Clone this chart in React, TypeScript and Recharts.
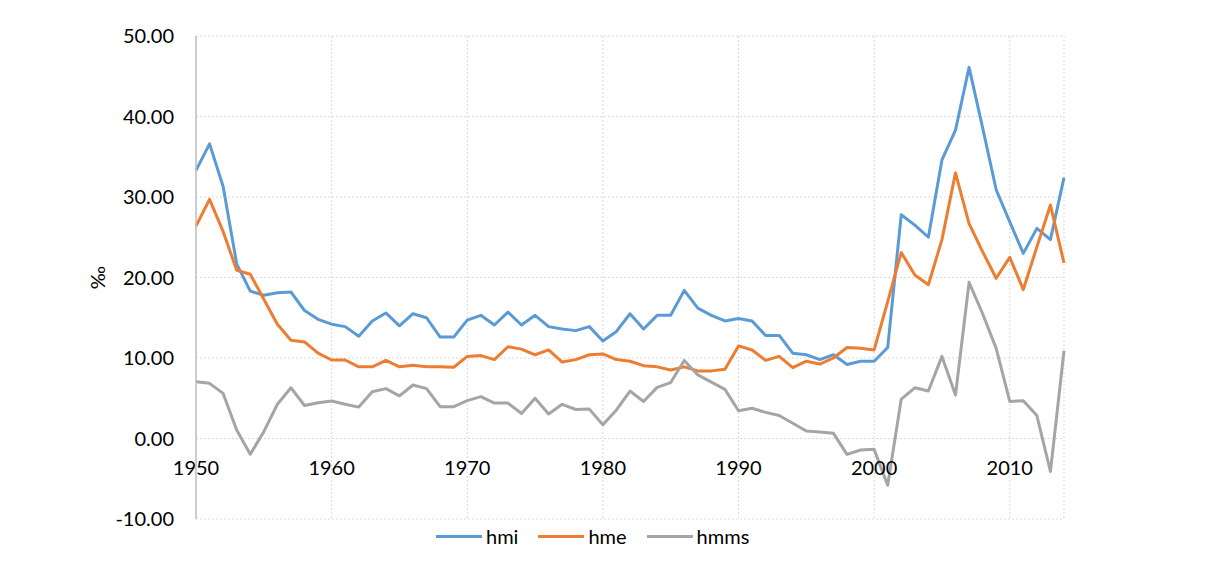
import { LineChart, Line, XAxis, YAxis, CartesianGrid } from 'recharts'

const years = Array.from({ length: 65 }, (_, i) => 1950 + i)

const hmi = [
  33.3, 36.6, 31.3, 21.7, 18.3, 17.8, 18.1, 18.2, 15.9, 14.8,
  14.2, 13.9, 12.7, 14.6, 15.6, 14.0, 15.5, 15.0, 12.6, 12.6,
  14.7, 15.3, 14.1, 15.7, 14.1, 15.3, 13.9, 13.6, 13.4, 13.9,
  12.1, 13.3, 15.5, 13.6, 15.3, 15.3, 18.4, 16.2, 15.3, 14.6,
  14.9, 14.6, 12.8, 12.8, 10.6, 10.4, 9.8, 10.4, 9.2, 9.6,
  9.6, 11.3, 27.8, 26.5, 25.0, 34.6, 38.3, 46.1, 38.6, 30.9,
  26.9, 23.0, 26.1, 24.7, 32.4,
]

const hme = [
  26.4, 29.7, 25.7, 20.9, 20.4, 17.3, 14.2, 12.2, 12.0, 10.6,
  9.75, 9.75, 8.9, 8.9, 9.7, 8.9, 9.1, 8.9, 8.9, 8.85,
  10.2, 10.3, 9.8, 11.4, 11.1, 10.4, 11.0, 9.5, 9.8, 10.4,
  10.5, 9.8, 9.6, 9.05, 8.9, 8.5, 8.9, 8.4, 8.4, 8.6,
  11.5, 11.0, 9.7, 10.2, 8.8, 9.6, 9.25, 10.0, 11.3, 11.2,
  11.0, 17.0, 23.1, 20.3, 19.1, 24.7, 33.0, 26.7, 23.2, 19.9,
  22.5, 18.5, 23.8, 29.0, 21.8,
]

const hmms = [
  7.05, 6.85, 5.6, 1.05, -1.96, 0.85, 4.25, 6.3, 4.1, 4.45,
  4.65, 4.25, 3.9, 5.8, 6.2, 5.3, 6.65, 6.2, 3.95, 3.95,
  4.7, 5.2, 4.4, 4.4, 3.1, 5.0, 3.05, 4.25, 3.6, 3.65,
  1.7, 3.55, 5.9, 4.6, 6.35, 6.95, 9.7, 7.9, 7.0, 6.1,
  3.45, 3.75, 3.25, 2.85, 1.9, 0.93, 0.8, 0.64, -1.97, -1.43,
  -1.35, -5.8, 4.9, 6.3, 5.9, 10.2, 5.4, 19.4, 15.5, 11.2,
  4.6, 4.7, 2.85, -4.1, 10.9,
]

const yTicks = [-10, 0, 10, 20, 30, 40, 50]
const xTicks = [1950, 1960, 1970, 1980, 1990, 2000, 2010, 2014]
const xLabels = ['1950', '1960', '1970', '1980', '1990', '2000', '2010']

const series = [
  { key: 'hmi', color: '#5B9BD5' },
  { key: 'hme', color: '#ED7D31' },
  { key: 'hmms', color: '#A5A5A5' },
]

const data = years.map((year, i) => ({ year, hmi: hmi[i], hme: hme[i], hmms: hmms[i] }))

const FONT = 'Lato, "Open Sans", sans-serif'
const FS = 20
const PLOT_TOP = 36
const PLOT_H = 483
const ZERO_Y = PLOT_TOP + PLOT_H * (50 / 60)

const XTick = (props: any) => {
  const { x, payload } = props
  const label = String(payload.value)
  if (!xLabels.includes(label)) return null
  return (
    <text x={x} y={ZERO_Y + 36.5} textAnchor="middle" fontSize={FS} fontFamily={FONT} fill="#000">
      {label}
    </text>
  )
}

export default function App() {
  return (
    <div style={{ position: 'absolute', left: 0, top: 0, width: 1218, height: 562, background: '#fff' }}>
      <LineChart
        width={1218}
        height={562}
        data={data}
        margin={{ top: PLOT_TOP, right: 154, bottom: 42, left: 96 }}
      >
        <CartesianGrid stroke="#D9D9D9" strokeDasharray="2 2" />
        <XAxis
          dataKey="year"
          type="number"
          domain={[1950, 2014]}
          ticks={xTicks}
          axisLine={false}
          tickLine={false}
          height={1}
          tick={<XTick />}
          interval={0}
        />
        <YAxis
          type="number"
          domain={[-10, 50]}
          ticks={yTicks}
          width={100}
          axisLine={{ stroke: '#BFBFBF', strokeWidth: 1.5 }}
          tickLine={false}
          tickMargin={16}
          tickFormatter={(v: number) => v.toFixed(2)}
          tick={{ fontSize: FS, fontFamily: FONT, fill: '#000' }}
          interval={0}
          label={{
            value: '‰',
            angle: -90,
            position: 'insideLeft',
            offset: 2,
            style: { fontSize: FS, fontFamily: FONT, fill: '#000', textAnchor: 'middle' },
          }}
        />
        {series.map((s) => (
          <Line
            key={s.key}
            type="linear"
            dataKey={s.key}
            stroke={s.color}
            strokeWidth={3}
            dot={false}
            activeDot={false}
            isAnimationActive={false}
            strokeLinejoin="round"
          />
        ))}
      </LineChart>
      <div
        style={{
          position: 'absolute',
          left: 436,
          top: 524,
          display: 'flex',
          alignItems: 'center',
          fontFamily: FONT,
          fontSize: FS,
          color: '#000',
        }}
      >
        {series.map((s) => (
          <div key={s.key} style={{ display: 'flex', alignItems: 'center', marginRight: 20 }}>
            <div style={{ width: 46, height: 3, background: s.color, marginRight: 4 }} />
            <span>{s.key}</span>
          </div>
        ))}
      </div>
    </div>
  )
}
